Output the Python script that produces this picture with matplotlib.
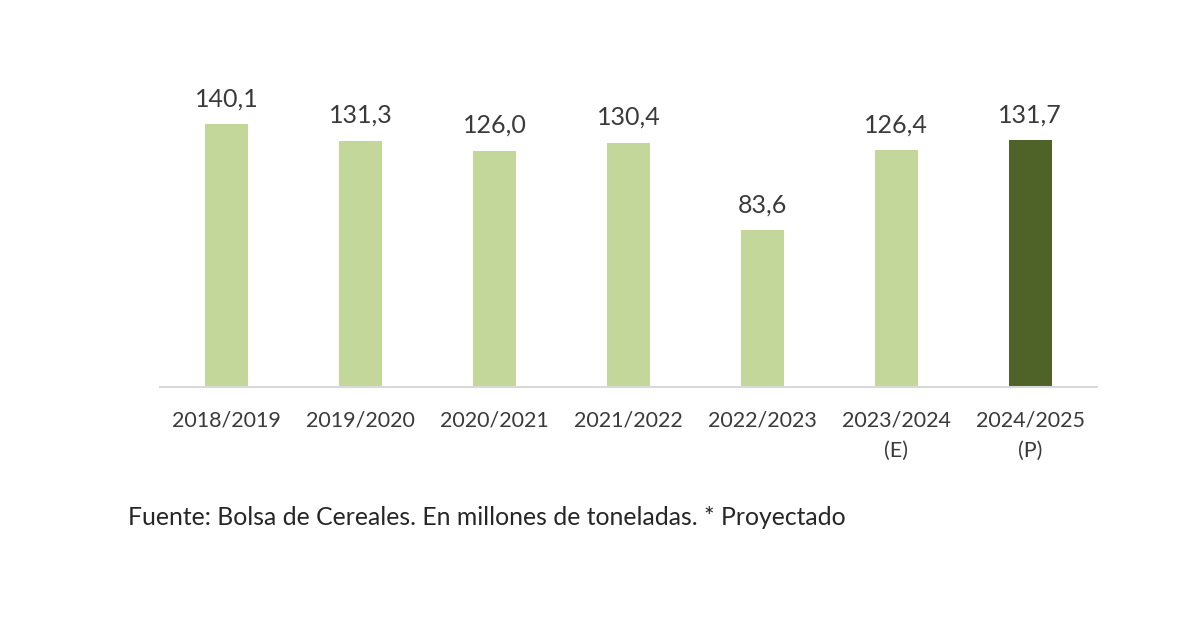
import matplotlib
matplotlib.use("Agg")
import matplotlib.pyplot as plt

campaigns = ["2018/2019", "2019/2020", "2020/2021", "2021/2022", "2022/2023", "2023/2024\n(E)", "2024/2025\n(P)"]
values = [140.1, 131.3, 126.0, 130.4, 83.6, 126.4, 131.7]
value_labels = ["140,1", "131,3", "126,0", "130,4", "83,6", "126,4", "131,7"]
footnote = "Fuente: Bolsa de Cereales. En millones de toneladas. * Proyectado"

plt.rcParams['font.family'] = ['Lato', 'DejaVu Sans']

fig = plt.figure(figsize=(12, 6.3), dpi=100)
ax = fig.add_axes([0.1333, 0.3857, 0.781, 0.476])

colors = ["#c4d79b"] * (len(values) - 1) + ["#4f6228"]
x = list(range(len(values)))
ax.bar(x, values, width=0.32, color=colors)

for xi, v, lab in zip(x, values, value_labels):
    ax.annotate(lab, (xi, v), xytext=(0, 10), textcoords="offset points",
                ha="center", va="bottom", fontsize=18, color="#3a3a3a")

ax.set_xlim(-0.5, len(values) - 0.5)
ax.set_ylim(0, 160)
ax.set_xticks(x)
ax.set_xticklabels(campaigns, fontsize=15.5, color="#3a3a3a", linespacing=1.65)
ax.tick_params(axis="x", length=0, pad=17)
ax.set_yticks([])
for s in ["top", "right", "left"]:
    ax.spines[s].set_visible(False)
ax.spines["bottom"].set_color("#d9d9d9")
ax.spines["bottom"].set_linewidth(1.5)

fig.text(0.1067, 0.178, footnote, fontsize=17.8, color="#262626", ha="left", va="center")

fig.savefig("out.png", dpi=100, facecolor="white")
